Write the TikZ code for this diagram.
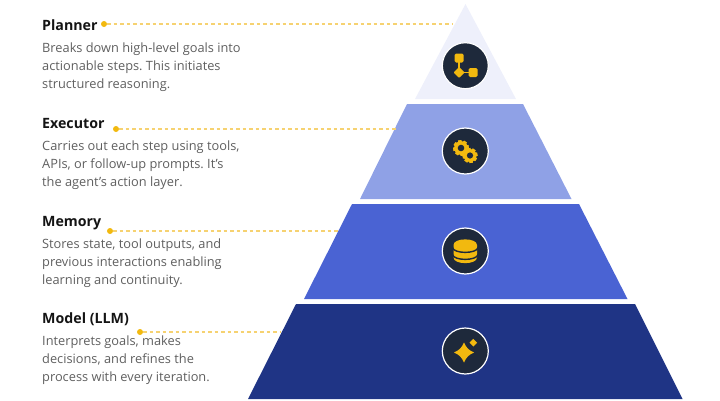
\documentclass[tikz,border=0pt]{standalone}
\usepackage{fontspec}
\setmainfont{Open Sans}
\frenchspacing
\definecolor{tierA}{HTML}{EEF0FB}
\definecolor{tierB}{HTML}{8FA1E6}
\definecolor{tierC}{HTML}{4A63D3}
\definecolor{tierD}{HTML}{1F3485}
\definecolor{badge}{HTML}{1E293B}
\definecolor{gold}{HTML}{F2B90F}
\definecolor{goldline}{HTML}{F6D271}
\definecolor{bodygray}{HTML}{5F5F5F}
\definecolor{titleblack}{HTML}{141414}
\tikzset{
  titletext/.style={anchor=base west,inner sep=0pt,font=\fontsize{14.2}{16}\selectfont\bfseries,text=titleblack},
  bodytext/.style={anchor=base west,inner sep=0pt,font=\fontsize{12.8}{14}\selectfont,text=bodygray},
  golddot/.style={circle,fill=gold,inner sep=0pt,minimum size=6pt},
  leader/.style={goldline,line width=1.3pt,dash pattern=on 3.5pt off 3pt},
  badgering/.style={circle,fill=badge,draw=white,line width=1.2pt,minimum size=46pt,inner sep=0pt},
}
\newcommand{\gearat}[3]{% x,y,radius
  \foreach \a in {0,45,...,315}{
    \fill[gold,rotate around={\a+10:(#1,#2)}] (#1-1.7,#2-#3) rectangle (#1+1.7,#2+#3);
  }
  \fill[gold] (#1,#2) circle ({#3*0.88});
  \fill[badge] (#1,#2) circle ({#3*0.42});
}
\newcommand{\sparkle}[3]{% x,y,radius
  \fill[gold] (#1,#2-#3) .. controls (#1+#3*0.25,#2-#3*0.45) and (#1+#3*0.45,#2-#3*0.25) .. (#1+#3,#2)
    .. controls (#1+#3*0.45,#2+#3*0.25) and (#1+#3*0.25,#2+#3*0.45) .. (#1,#2+#3)
    .. controls (#1-#3*0.25,#2+#3*0.45) and (#1-#3*0.45,#2+#3*0.25) .. (#1-#3,#2)
    .. controls (#1-#3*0.45,#2-#3*0.25) and (#1-#3*0.25,#2-#3*0.45) .. (#1,#2-#3) -- cycle;
}
\begin{document}
\begin{tikzpicture}[x=1pt,y=-1pt]
\useasboundingbox (0,0) rectangle (720,400);
% tiers
\fill[tierA] (465.5,4) -- (516,99) -- (415,99) -- cycle;
\fill[tierB] (407,104) -- (523,104) -- (571.5,199) -- (360,199) -- cycle;
\fill[tierC] (352,204) -- (579,204) -- (627.5,299) -- (304,299) -- cycle;
\fill[tierD] (296,304) -- (635,304) -- (682.5,399) -- (248,399) -- cycle;
% badges
\node[badgering] (b1) at (465.3,65.7) {};
\node[badgering] (b2) at (465.3,151) {};
\node[badgering] (b3) at (465.3,251) {};
\node[badgering] (b4) at (465.3,351) {};
% icon 1
\draw[gold,line width=1.5pt] (459,58) -- (459,72.5) -- (473,72.5);
\fill[gold,rounded corners=1.5pt] (454.5,53.5) rectangle (463.5,62.5);
\fill[gold,rounded corners=1.5pt] (468.5,68) rectangle (477.5,77);
\fill[gold,rounded corners=1pt] (459,67) -- (464.5,72.5) -- (459,78) -- (453.5,72.5) -- cycle;
% icon 2
\gearat{470}{155.5}{7.4}
\gearat{461}{148}{7.8}
% icon 3
\fill[gold] (453.5,245) .. controls (453.5,237.5) and (477,237.5) .. (477,245)
  -- (477,257.5) .. controls (477,265) and (453.5,265) .. (453.5,257.5) -- cycle;
\draw[badge,line width=1.4pt] (452.5,247.5) .. controls (453.5,254) and (477,254) .. (478,247.5);
\draw[badge,line width=1.4pt] (452.5,254.5) .. controls (453.5,261) and (477,261) .. (478,254.5);
% icon 4
\sparkle{464}{352.5}{10}
\sparkle{473.3}{342.7}{3.8}
% dots and leaders
\node[golddot] (d1) at (104,24) {};
\coordinate (e1) at (452,24);
\node[golddot] (d2) at (116,129) {};
\coordinate (e2) at (396,129);
\node[golddot] (d3) at (110,231) {};
\coordinate (e3) at (338,231);
\node[golddot] (d4) at (140,332) {};
\coordinate (e4) at (281,332);
\draw[leader] (d1) -- (e1);
\draw[leader] (d2) -- (e2);
\draw[leader] (d3) -- (e3);
\draw[leader] (d4) -- (e4);
% text
\node[titletext] (t1) at (42,30) {Planner};
\node[bodytext] (t1a) at (42,52) {Breaks down high-level goals into};
\node[bodytext] (t1b) at (42,70) {actionable steps. This initiates};
\node[bodytext] (t1c) at (42,88.5) {structured reasoning.};
\node[titletext] (t2) at (42,128) {Executor};
\node[bodytext] (t2a) at (42,150) {Carries out each step using tools,};
\node[bodytext] (t2b) at (42,168.5) {APIs, or follow-up prompts. It’s};
\node[bodytext] (t2c) at (42,186.5) {the agent’s action layer.};
\node[titletext] (t3) at (42,226) {Memory};
\node[bodytext] (t3a) at (42,248) {Stores state, tool outputs, and};
\node[bodytext] (t3b) at (42,266) {previous interactions enabling};
\node[bodytext] (t3c) at (42,284.5) {learning and continuity.};
\node[titletext] (t4) at (42,323) {Model (LLM)};
\node[bodytext] (t4a) at (42,345.5) {Interprets goals, makes};
\node[bodytext] (t4b) at (42,363.5) {decisions, and refines the};
\node[bodytext] (t4c) at (42,381.5) {process with every iteration.};
\end{tikzpicture}
\end{document}
